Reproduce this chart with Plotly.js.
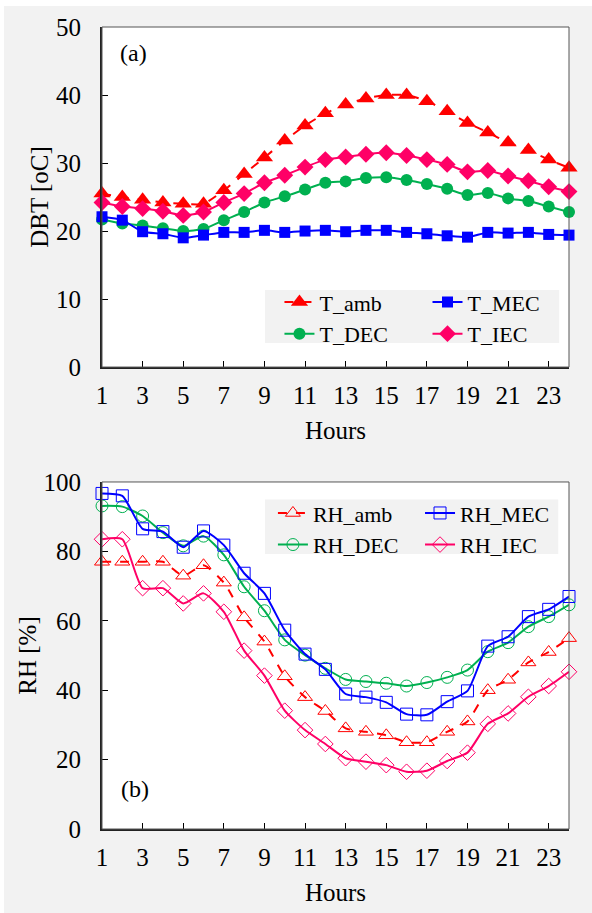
<!DOCTYPE html>
<html>
<head>
<meta charset="utf-8">
<script src="https://cdn.plot.ly/plotly-3.0.1.min.js"></script>
<style>
html,body{margin:0;padding:0;background:#ffffff;}
#chart{position:absolute;left:4px;top:6px;width:588px;height:907px;}
</style>
</head>
<body>
<div id="chart"></div>
<script>
var hours = [1,2,3,4,5,6,7,8,9,10,11,12,13,14,15,16,17,18,19,20,21,22,23,24];
var xTickVals = [1,3,5,7,9,11,13,15,17,19,21,23];

var T_amb = [25.5,25.0,24.6,24.2,24.0,24.0,26.0,28.4,30.8,33.3,35.5,37.3,38.6,39.5,40.0,40.0,39.1,37.6,35.9,34.5,33.0,31.9,30.5,29.3];
var T_MEC = [22.1,21.6,19.9,19.6,19.0,19.4,19.8,19.8,20.1,19.8,20.0,20.1,19.9,20.1,20.1,19.8,19.6,19.3,19.1,19.8,19.7,19.8,19.5,19.4];
var T_DEC = [21.7,21.1,20.8,20.4,20.0,20.3,21.6,22.8,24.2,25.1,26.1,27.1,27.3,27.8,27.9,27.5,26.9,26.2,25.3,25.6,24.8,24.4,23.6,22.8];
var T_IEC = [24.2,23.6,23.3,22.9,22.3,22.8,24.2,25.5,27.1,28.2,29.4,30.5,30.9,31.3,31.5,31.1,30.5,29.8,28.7,28.9,28.1,27.4,26.5,25.8];

var RH_amb = [77,77,77,77,73,76,71,61,54,44,38,34,29,28,27,25,25,28,31,40,43,48,51,55];
var RH_MEC = [96.7,96.0,86.5,85.7,81.2,85.9,81.8,73.7,67.9,57.3,50.4,46.0,38.9,38.0,36.5,33.1,32.9,36.7,39.8,52.7,55.4,61.2,63.3,67.0];
var RH_DEC = [93.1,92.9,90.2,85.4,81.6,84.4,79.0,69.8,62.9,54.5,50.1,46.3,43.1,42.5,42.0,41.2,42.2,43.7,45.8,51.1,53.7,58.3,61.2,64.6];
var RH_IEC = [83.5,83.5,69.4,69.4,65.0,67.9,62.6,51.4,44.2,34.1,28.5,24.5,20.4,19.4,18.4,16.5,16.8,19.6,22.0,30.3,33.3,38.1,41.2,45.3];

var RED = '#ff0000', BLUE = '#0000ff', GREEN = '#00b050', PINK = '#ff0066';
var FONT = '"Liberation Serif", "Times New Roman", serif';

function tr(name, y, color, symbol, size, dash, xa, ya, leg, open) {
  return {
    x: hours, y: y, name: name, type: 'scatter', mode: 'lines+markers',
    xaxis: xa, yaxis: ya, legend: leg, cliponaxis: false,
    line: {color: color, width: 2, dash: dash, shape: 'spline', smoothing: 0.6},
    marker: open ? {symbol: symbol, size: size, color: color, line: {color: color, width: 1}}
                 : {symbol: symbol, size: size, color: color, line: {width: 0}}
  };
}

var data = [
  tr('T_amb', T_amb, RED, 'triangle-up', 15, 'dash', 'x', 'y', 'legend', false),
  tr('T_DEC', T_DEC, GREEN, 'circle', 12, 'solid', 'x', 'y', 'legend', false),
  tr('T_MEC', T_MEC, BLUE, 'square', 11, 'solid', 'x', 'y', 'legend2', false),
  tr('T_IEC', T_IEC, PINK, 'diamond', 13, 'solid', 'x', 'y', 'legend2', false),
  tr('RH_amb', RH_amb, RED, 'triangle-up-open', 13, 'dash', 'x2', 'y2', 'legend3', true),
  tr('RH_DEC', RH_DEC, GREEN, 'circle-open', 12, 'solid', 'x2', 'y2', 'legend3', true),
  tr('RH_MEC', RH_MEC, BLUE, 'square-open', 12, 'solid', 'x2', 'y2', 'legend4', true),
  tr('RH_IEC', RH_IEC, PINK, 'diamond-open', 12, 'solid', 'x2', 'y2', 'legend4', true)
];

function xax(anchor) {
  return {
    anchor: anchor, domain: [0, 1], range: [1, 24], tickvals: xTickVals,
    ticks: 'inside', ticklen: 6, tickwidth: 1, tickcolor: '#000',
    showline: true, linewidth: 2, linecolor: '#222', zeroline: false, showgrid: false,
    tickfont: {family: FONT, size: 25, color: '#000'}, ticklabelstandoff: 5,
    title: {text: 'Hours', font: {family: FONT, size: 25, color: '#000'}, standoff: 13}
  };
}
function yax(anchor, domain, range, dtick, title) {
  return {
    anchor: anchor, domain: domain, range: range, dtick: dtick,
    ticks: 'inside', ticklen: 6, tickwidth: 1, tickcolor: '#000',
    showline: true, linewidth: 2, linecolor: '#222', zeroline: false, showgrid: false,
    tickfont: {family: FONT, size: 25, color: '#000'}, ticklabelstandoff: 14,
    title: {text: title, font: {family: FONT, size: 25, color: '#000'}, standoff: 0}
  };
}

function legendAt(x, y) {
  return {x: x, y: y, xanchor: 'left', yanchor: 'top', bgcolor: 'rgba(0,0,0,0)',
          borderwidth: 0, orientation: 'v', tracegroupgap: 0,
          font: {family: FONT, size: 22, color: '#000'}};
}

var layout = {
  width: 588, height: 907,
  margin: {l: 98, r: 23, t: 21, b: 84},
  paper_bgcolor: '#f2f2f2', plot_bgcolor: '#ffffff',
  showlegend: true,
  xaxis: xax('y'),
  yaxis: yax('x', [0.576, 1], [0, 50], 10, 'DBT [oC]'),
  xaxis2: xax('y2'),
  yaxis2: yax('x2', [0, 0.4327], [0, 100], 20, 'RH [%]'),
  legend: legendAt(0.380, 0.683),
  legend2: legendAt(0.697, 0.683),
  legend3: legendAt(0.366, 0.420),
  legend4: legendAt(0.681, 0.420),
  shapes: [
    {type: 'rect', xref: 'x domain', yref: 'y domain', x0: 0, x1: 1, y0: 0, y1: 1,
     line: {color: '#555', width: 1}, layer: 'above'},
    {type: 'rect', xref: 'x2 domain', yref: 'y2 domain', x0: 0, x1: 1, y0: 0, y1: 1,
     line: {color: '#555', width: 1}, layer: 'above'},
    {type: 'rect', xref: 'paper', yref: 'paper', x0: 0.349, x1: 0.979, y0: 0.606, y1: 0.672,
     fillcolor: '#f2f2f2', line: {width: 0}, layer: 'below'},
    {type: 'rect', xref: 'paper', yref: 'paper', x0: 0.349, x1: 0.977, y0: 0.343, y1: 0.411,
     fillcolor: '#f2f2f2', line: {width: 0}, layer: 'below'}
  ],
  annotations: [
    {text: '(a)', xref: 'paper', yref: 'paper', x: 0.0685, y: 0.9676, xanchor: 'center', yanchor: 'middle',
     showarrow: false, font: {family: FONT, size: 24, color: '#000'}},
    {text: '(b)', xref: 'paper', yref: 'paper', x: 0.0707, y: 0.0499, xanchor: 'center', yanchor: 'middle',
     showarrow: false, font: {family: FONT, size: 24, color: '#000'}}
  ]
};

Plotly.newPlot('chart', data, layout, {displayModeBar: false, staticPlot: true});
</script>
</body>
</html>
